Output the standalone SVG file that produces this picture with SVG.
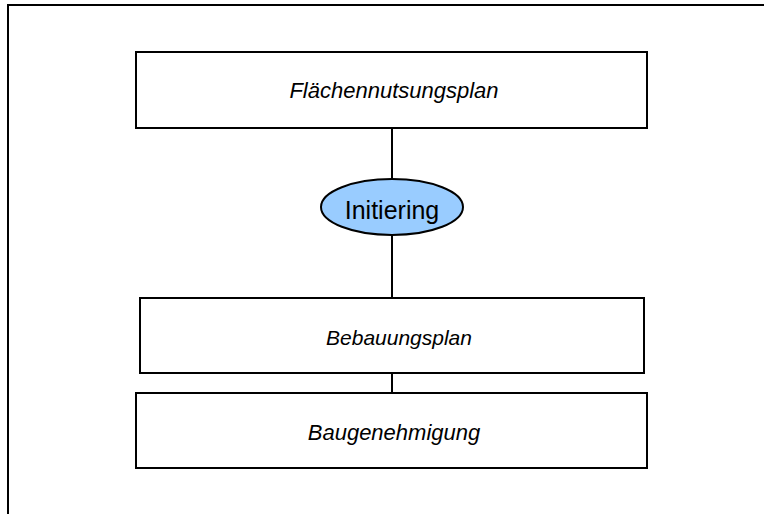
<svg xmlns="http://www.w3.org/2000/svg" width="764" height="514" viewBox="0 0 764 514">
  <style>
    .box { fill: #ffffff; stroke: #000000; stroke-width: 2; }
    .link { stroke: #000000; stroke-width: 2; fill: none; }
    .lbl { font-family: "Liberation Sans", Arial, sans-serif; font-size: 22px; font-style: italic; text-anchor: middle; fill: #000000; }
    .oval { fill: #99ccff; stroke: #000000; stroke-width: 2; }
    .ovlbl { font-family: "Liberation Sans", Arial, sans-serif; font-size: 25px; text-anchor: middle; fill: #000000; }
  </style>
  <rect width="764" height="514" fill="#ffffff"/>
  <!-- open frame: top and left edges -->
  <path class="link" d="M8,514 V5 H764"/>
  <g id="connectors">
    <line class="link" x1="392" y1="128" x2="392" y2="179"/>
    <line class="link" x1="392" y1="235" x2="392" y2="298"/>
    <line class="link" x1="392" y1="373" x2="392" y2="393"/>
  </g>
  <g id="flaechennutzungsplan">
    <rect class="box" x="136" y="52" width="511" height="76"/>
    <text class="lbl" x="394" y="98">Flächennutsungsplan</text>
  </g>
  <g id="initiering">
    <ellipse class="oval" cx="392" cy="207" rx="71" ry="28"/>
    <text class="ovlbl" x="392" y="219">Initiering</text>
  </g>
  <g id="bebauungsplan">
    <rect class="box" x="140" y="298" width="504" height="75"/>
    <text class="lbl" x="399" y="345" style="font-size:21px">Bebauungsplan</text>
  </g>
  <g id="baugenehmigung">
    <rect class="box" x="136" y="393" width="511" height="75"/>
    <text class="lbl" x="394" y="440">Baugenehmigung</text>
  </g>
</svg>
